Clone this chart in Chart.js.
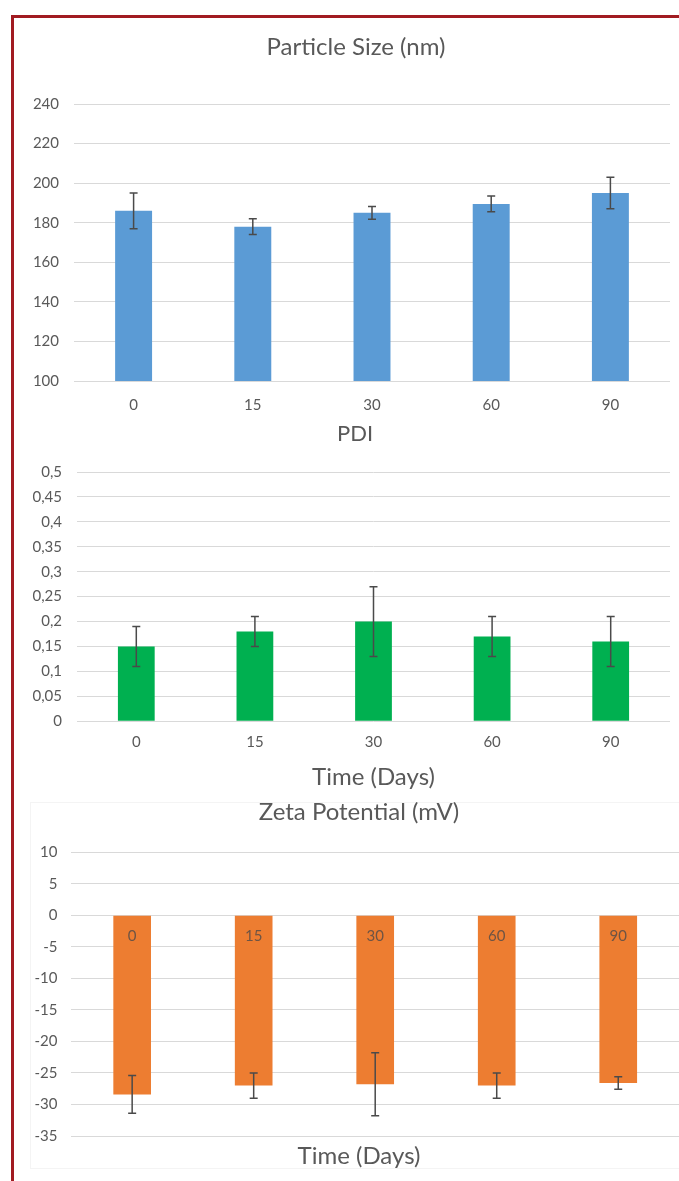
<!DOCTYPE html>
<html>
<head>
<meta charset="utf-8">
<script src="https://cdn.jsdelivr.net/npm/chart.js@4.4.1/dist/chart.umd.min.js"></script>
<style>
  body { margin: 0; background: #fff; overflow: hidden; width: 679px; height: 1181px; position: relative; }
  #frame { position: absolute; left: 11px; top: 15px; width: 700px; height: 1200px;
           border-top: 3px solid #a11b21; border-left: 3px solid #a11b21; }
  #zetaBox { position: absolute; left: 30px; top: 802px; width: 700px; height: 365px; border: 1px solid #f4f4f4; }
  canvas { position: absolute; left: 13px; }
</style>
</head>
<body>
<div id="frame"></div>
<div id="zetaBox"></div>
<canvas id="size-chart" width="686" height="415" style="top:20px"></canvas>
<canvas id="pdi-chart" width="684" height="384" style="top:412px"></canvas>
<canvas id="zeta-chart" width="692" height="391" style="top:790px"></canvas>
<script>
const days = ["0", "15", "30", "60", "90"];

const sizeValues = [186, 178, 185, 189.5, 195];
const sizeErrors = [9, 4, 3.2, 4, 8];

const pdiValues = [0.15, 0.18, 0.2, 0.17, 0.16];
const pdiErrors = [0.04, 0.03, 0.07, 0.04, 0.05];

const zetaValues = [-28.4, -27, -26.8, -27, -26.6];
const zetaErrors = [3, 2, 5, 2, 1];

const font = "Lato";
const textColor = "#595959";
const gridColor = "#d9d9d9";

Chart.defaults.font.family = font;
Chart.defaults.color = textColor;

// error bars drawn from the y scale
const errorBars = {
  id: "errorBars",
  afterDatasetsDraw(chart, args, opts) {
    const ctx = chart.ctx;
    const meta = chart.getDatasetMeta(0);
    const yScale = chart.scales.y;
    const values = chart.data.datasets[0].data;
    ctx.save();
    ctx.strokeStyle = "#4a4a4a";
    ctx.lineWidth = 1.5;
    meta.data.forEach((bar, i) => {
      const top = yScale.getPixelForValue(values[i] + opts.errors[i]);
      const bottom = yScale.getPixelForValue(values[i] - opts.errors[i]);
      ctx.beginPath();
      ctx.moveTo(bar.x, top);
      ctx.lineTo(bar.x, bottom);
      ctx.moveTo(bar.x - 4, top);
      ctx.lineTo(bar.x + 4, top);
      ctx.moveTo(bar.x - 4, bottom);
      ctx.lineTo(bar.x + 4, bottom);
      ctx.stroke();
    });
    ctx.restore();
  },
};

function makeChart(id, values, errors, color, opts) {
  return new Chart(document.getElementById(id), {
    type: "bar",
    data: {
      labels: days,
      datasets: [
        {
          data: values,
          backgroundColor: color,
          barPercentage: 0.31,
          categoryPercentage: 1,
        },
      ],
    },
    options: {
      responsive: false,
      animation: false,
      layout: { padding: opts.padding },
      plugins: {
        legend: { display: false },
        tooltip: { enabled: false },
        title: {
          display: true,
          text: opts.title,
          font: { size: opts.titleSize, weight: "normal" },
          color: textColor,
          padding: opts.titlePadding,
        },
        subtitle: opts.subtitle || { display: false },
        errorBars: { errors: errors },
      },
      scales: {
        x: opts.x,
        y: {
          min: opts.min,
          max: opts.max,
          afterFit: (scale) => {
            scale.width = opts.yWidth;
          },
          ticks: {
            stepSize: opts.step,
            padding: opts.yPad,
            font: { size: 15 },
            color: textColor,
            callback: opts.format,
          },
          grid: { color: gridColor, lineWidth: 1, drawTicks: false },
          border: { display: false },
        },
        // empty right margin so the title stays centred on the canvas
        margin: {
          type: "linear",
          position: "right",
          grid: { display: false, drawTicks: false },
          ticks: { display: false },
          border: { display: false },
          afterFit: (scale) => {
            scale.width = opts.rightGap;
          },
        },
      },
    },
    plugins: [errorBars],
  });
}

makeChart("size-chart", sizeValues, sizeErrors, "#5b9bd5", {
  title: "Particle Size (nm)",
  titleSize: 24,
  titlePadding: { top: 12.6, bottom: 42.6 },
  padding: { left: 0, right: 0, bottom: 6 },
  rightGap: 29,
  min: 100,
  max: 240,
  step: 20,
  yWidth: 61,
  yPad: 15,
  format: (v) => v,
  x: {
    grid: { display: false, drawTicks: false },
    border: { display: false },
    ticks: { padding: 15, font: { size: 15 }, color: textColor },
  },
});

makeChart("pdi-chart", pdiValues, pdiErrors, "#00b050", {
  title: "PDI",
  titleSize: 22,
  titlePadding: { top: 8.8, bottom: 24.8 },
  padding: { left: 0, right: 0, bottom: 0 },
  rightGap: 27,
  min: 0,
  max: 0.5,
  step: 0.05,
  yWidth: 64,
  yPad: 15,
  format: (v) => String(Math.round(v * 100) / 100).replace(".", ","),
  x: {
    grid: { display: false, drawTicks: false },
    border: { display: false },
    ticks: { padding: 12, font: { size: 15 }, color: textColor },
    title: {
      display: true,
      text: "Time (Days)",
      font: { size: 24 },
      color: textColor,
      padding: { top: 0, bottom: 4 },
    },
  },
});

makeChart("zeta-chart", zetaValues, zetaErrors, "#ed7d31", {
  title: "Zeta Potential (mV)",
  titleSize: 24,
  titlePadding: { top: 7.6, bottom: 25.9 },
  padding: { left: 0, right: 0, bottom: 0 },
  rightGap: 26,
  min: -35,
  max: 10,
  step: 5,
  yWidth: 58.4,
  yPad: 14,
  format: (v) => v,
  subtitle: {
    display: true,
    position: "bottom",
    text: "Time (Days)",
    font: { size: 24 },
    color: textColor,
    padding: { top: 5.6, bottom: 10.6 },
  },
  x: {
    position: { y: 0 },
    grid: { display: false, drawTicks: false },
    border: { display: false },
    ticks: { z: 1, padding: 12, font: { size: 15 }, color: "#6e5444" },
  },
});
</script>
</body>
</html>
